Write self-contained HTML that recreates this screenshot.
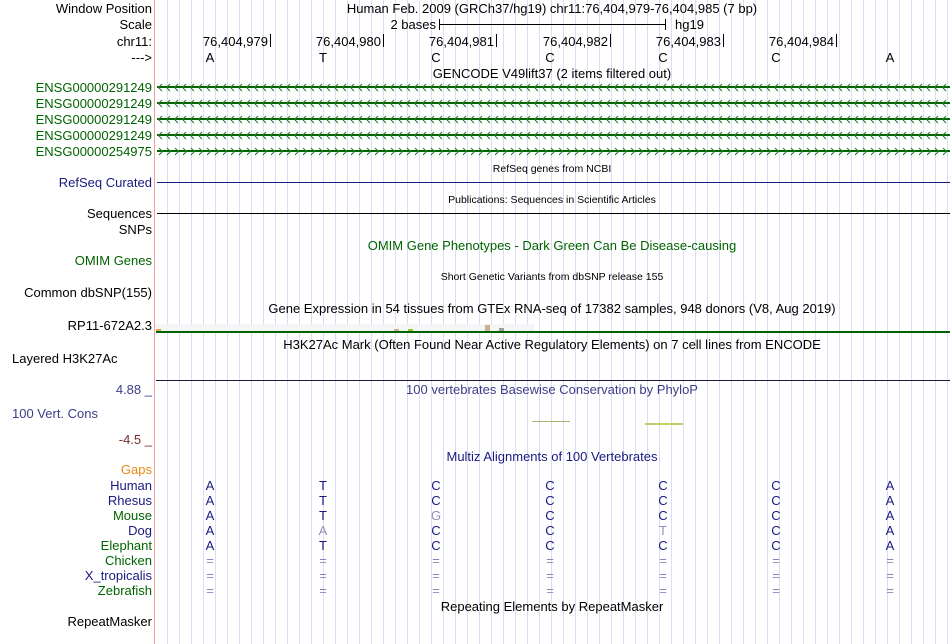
<!DOCTYPE html>
<html><head><meta charset="utf-8"><style>
html,body{margin:0;padding:0;background:#fff;}
svg{display:block;font-family:"Liberation Sans",Arial,sans-serif;}
</style></head><body>
<svg width="950" height="644" viewBox="0 0 950 644" xmlns="http://www.w3.org/2000/svg">
<defs>
<pattern id="grid" x="167" y="0" width="12" height="644" patternUnits="userSpaceOnUse">
<rect x="0" y="0" width="1" height="644" fill="#dcdcf6"/>
</pattern>
<pattern id="chevL" x="157" y="79" width="8" height="16" patternUnits="userSpaceOnUse">
<polyline points="5,5 1.5,8.5 5,12" fill="none" stroke="#1f7a1f" stroke-width="1"/>
</pattern>
<pattern id="chevR" x="157" y="79" width="8" height="16" patternUnits="userSpaceOnUse">
<polyline points="2,5 5.5,8.5 2,12" fill="none" stroke="#1f7a1f" stroke-width="1"/>
</pattern>
</defs>
<rect width="950" height="644" fill="#fff"/>
<rect x="156" y="0" width="794" height="644" fill="url(#grid)"/>
<rect x="154" y="0" width="1" height="644" fill="#f4a0a0"/>

<g font-size="13" fill="#000" text-anchor="end">
<text x="152" y="13">Window Position</text>
<text x="152" y="29">Scale</text>
<text x="152" y="46">chr11:</text>
<text x="152" y="62">---&gt;</text>
</g>
<g font-size="13" fill="#006400" text-anchor="end">
<text x="152" y="92">ENSG00000291249</text>
<text x="152" y="108">ENSG00000291249</text>
<text x="152" y="124">ENSG00000291249</text>
<text x="152" y="140">ENSG00000291249</text>
<text x="152" y="156">ENSG00000254975</text>
</g>
<text x="152" y="187" font-size="13" fill="#1a1a80" text-anchor="end">RefSeq Curated</text>
<text x="152" y="218" font-size="13" text-anchor="end">Sequences</text>
<text x="152" y="234" font-size="13" text-anchor="end">SNPs</text>
<text x="152" y="265" font-size="13" fill="#006400" text-anchor="end">OMIM Genes</text>
<text x="152" y="297" font-size="13" text-anchor="end">Common dbSNP(155)</text>
<text x="152" y="330" font-size="13" text-anchor="end">RP11-672A2.3</text>
<text x="12" y="363" font-size="13">Layered H3K27Ac</text>
<text x="152" y="394" font-size="13" fill="#3d3d8a" text-anchor="end">4.88 _</text>
<text x="12" y="418" font-size="13" fill="#3d3d8a">100 Vert. Cons</text>
<text x="152" y="444" font-size="13" fill="#7a3030" text-anchor="end">-4.5 _</text>
<text x="152" y="474" font-size="13" fill="#e88a10" text-anchor="end">Gaps</text>
<g font-size="13" text-anchor="end">
<text x="152" y="490" fill="#1a1a80">Human</text>
<text x="152" y="505" fill="#1a1a80">Rhesus</text>
<text x="152" y="520" fill="#006400">Mouse</text>
<text x="152" y="535" fill="#1a1a80">Dog</text>
<text x="152" y="550" fill="#006400">Elephant</text>
<text x="152" y="565" fill="#006400">Chicken</text>
<text x="152" y="580" fill="#1a1a80">X_tropicalis</text>
<text x="152" y="595" fill="#006400">Zebrafish</text>
<text x="152" y="626" fill="#000">RepeatMasker</text>
</g>

<!-- header -->
<text x="552" y="13" font-size="13" text-anchor="middle">Human Feb. 2009 (GRCh37/hg19)   chr11:76,404,979-76,404,985 (7 bp)</text>
<text x="436" y="29" font-size="13" text-anchor="end">2 bases</text>
<rect x="439" y="24" width="226" height="1" fill="#000"/>
<rect x="439" y="19" width="1" height="11" fill="#000"/>
<rect x="665" y="19" width="1" height="11" fill="#000"/>
<text x="675" y="29" font-size="13">hg19</text>
<g font-size="13" text-anchor="end">
<text x="268" y="46">76,404,979</text><rect x="270" y="34" width="1" height="13"/>
<text x="381" y="46">76,404,980</text><rect x="383" y="34" width="1" height="13"/>
<text x="494" y="46">76,404,981</text><rect x="496" y="34" width="1" height="13"/>
<text x="608" y="46">76,404,982</text><rect x="610" y="34" width="1" height="13"/>
<text x="721" y="46">76,404,983</text><rect x="723" y="34" width="1" height="13"/>
<text x="834" y="46">76,404,984</text><rect x="836" y="34" width="1" height="13"/>
</g>
<g font-size="13" text-anchor="middle">
<text x="210" y="62">A</text><text x="323" y="62">T</text><text x="436" y="62">C</text><text x="550" y="62">C</text><text x="663" y="62">C</text><text x="776" y="62">C</text><text x="890" y="62">A</text>
</g>
<text x="552" y="78" font-size="13" text-anchor="middle">GENCODE V49lift37 (2 items filtered out)</text>

<!-- gene rows -->
<g fill="#006400">
<rect x="157" y="86" width="793" height="2"/>
<rect x="157" y="102" width="793" height="2"/>
<rect x="157" y="118" width="793" height="2"/>
<rect x="157" y="134" width="793" height="2"/>
<rect x="157" y="150" width="793" height="2"/>
</g>
<rect x="157" y="79" width="793" height="64" fill="url(#chevL)"/>
<rect x="157" y="143" width="793" height="16" fill="url(#chevR)"/>

<g font-size="10.5" text-anchor="middle">
<text x="552" y="172">RefSeq genes from NCBI</text>
<text x="552" y="203">Publications: Sequences in Scientific Articles</text>
<text x="552" y="280">Short Genetic Variants from dbSNP release 155</text>
</g>
<rect x="157" y="182" width="793" height="1" fill="#1a1a80"/>
<rect x="157" y="213" width="793" height="1" fill="#000"/>
<text x="552" y="250" font-size="13" fill="#006400" text-anchor="middle">OMIM Gene Phenotypes - Dark Green Can Be Disease-causing</text>
<text x="552" y="313" font-size="13" text-anchor="middle">Gene Expression in 54 tissues from GTEx RNA-seq of 17382 samples, 948 donors (V8, Aug 2019)</text>

<rect x="156" y="325" width="378" height="6" fill="#f6f6f6" stroke="#e4e4e4" stroke-width="0.5"/>
<rect x="156" y="329" width="5" height="2" fill="#e8a050"/>
<rect x="394" y="329" width="5" height="2" fill="#c8b090"/>
<rect x="408" y="329" width="5" height="2" fill="#90cc30"/>
<rect x="485" y="325" width="5" height="6" fill="#c8b090"/>
<rect x="499" y="328" width="5" height="3" fill="#a0a0a0"/>
<rect x="156" y="331" width="794" height="2" fill="#006400"/>

<text x="552" y="349" font-size="13" text-anchor="middle">H3K27Ac Mark (Often Found Near Active Regulatory Elements) on 7 cell lines from ENCODE</text>
<rect x="156" y="380" width="794" height="1" fill="#1a1a40"/>
<text x="552" y="394" font-size="13" fill="#3d3d8a" text-anchor="middle">100 vertebrates Basewise Conservation by PhyloP</text>
<rect x="532" y="421" width="38" height="1" fill="#b0b070"/>
<rect x="645" y="423" width="38" height="2" fill="#b8c040" opacity="0.8"/>

<text x="552" y="461" font-size="13" fill="#1a1a80" text-anchor="middle">Multiz Alignments of 100 Vertebrates</text>

<g font-size="13" text-anchor="middle" fill="#1a1a80">
<text x="210" y="490">A</text><text x="323" y="490">T</text><text x="436" y="490">C</text><text x="550" y="490">C</text><text x="663" y="490">C</text><text x="776" y="490">C</text><text x="890" y="490">A</text>
<text x="210" y="505">A</text><text x="323" y="505">T</text><text x="436" y="505">C</text><text x="550" y="505">C</text><text x="663" y="505">C</text><text x="776" y="505">C</text><text x="890" y="505">A</text>
<text x="210" y="520">A</text><text x="323" y="520">T</text><text x="436" y="520" fill="#9090b8">G</text><text x="550" y="520">C</text><text x="663" y="520">C</text><text x="776" y="520">C</text><text x="890" y="520">A</text>
<text x="210" y="535">A</text><text x="323" y="535" fill="#9090b8">A</text><text x="436" y="535">C</text><text x="550" y="535">C</text><text x="663" y="535" fill="#9090b8">T</text><text x="776" y="535">C</text><text x="890" y="535">A</text>
<text x="210" y="550">A</text><text x="323" y="550">T</text><text x="436" y="550">C</text><text x="550" y="550">C</text><text x="663" y="550">C</text><text x="776" y="550">C</text><text x="890" y="550">A</text>
</g>
<g font-size="13" text-anchor="middle" fill="#8888b8">
<text x="210" y="565">=</text><text x="323" y="565">=</text><text x="436" y="565">=</text><text x="550" y="565">=</text><text x="663" y="565">=</text><text x="776" y="565">=</text><text x="890" y="565">=</text>
<text x="210" y="580">=</text><text x="323" y="580">=</text><text x="436" y="580">=</text><text x="550" y="580">=</text><text x="663" y="580">=</text><text x="776" y="580">=</text><text x="890" y="580">=</text>
<text x="210" y="595">=</text><text x="323" y="595">=</text><text x="436" y="595">=</text><text x="550" y="595">=</text><text x="663" y="595">=</text><text x="776" y="595">=</text><text x="890" y="595">=</text>
</g>
<text x="552" y="611" font-size="13" text-anchor="middle">Repeating Elements by RepeatMasker</text>
</svg>
</body></html>
